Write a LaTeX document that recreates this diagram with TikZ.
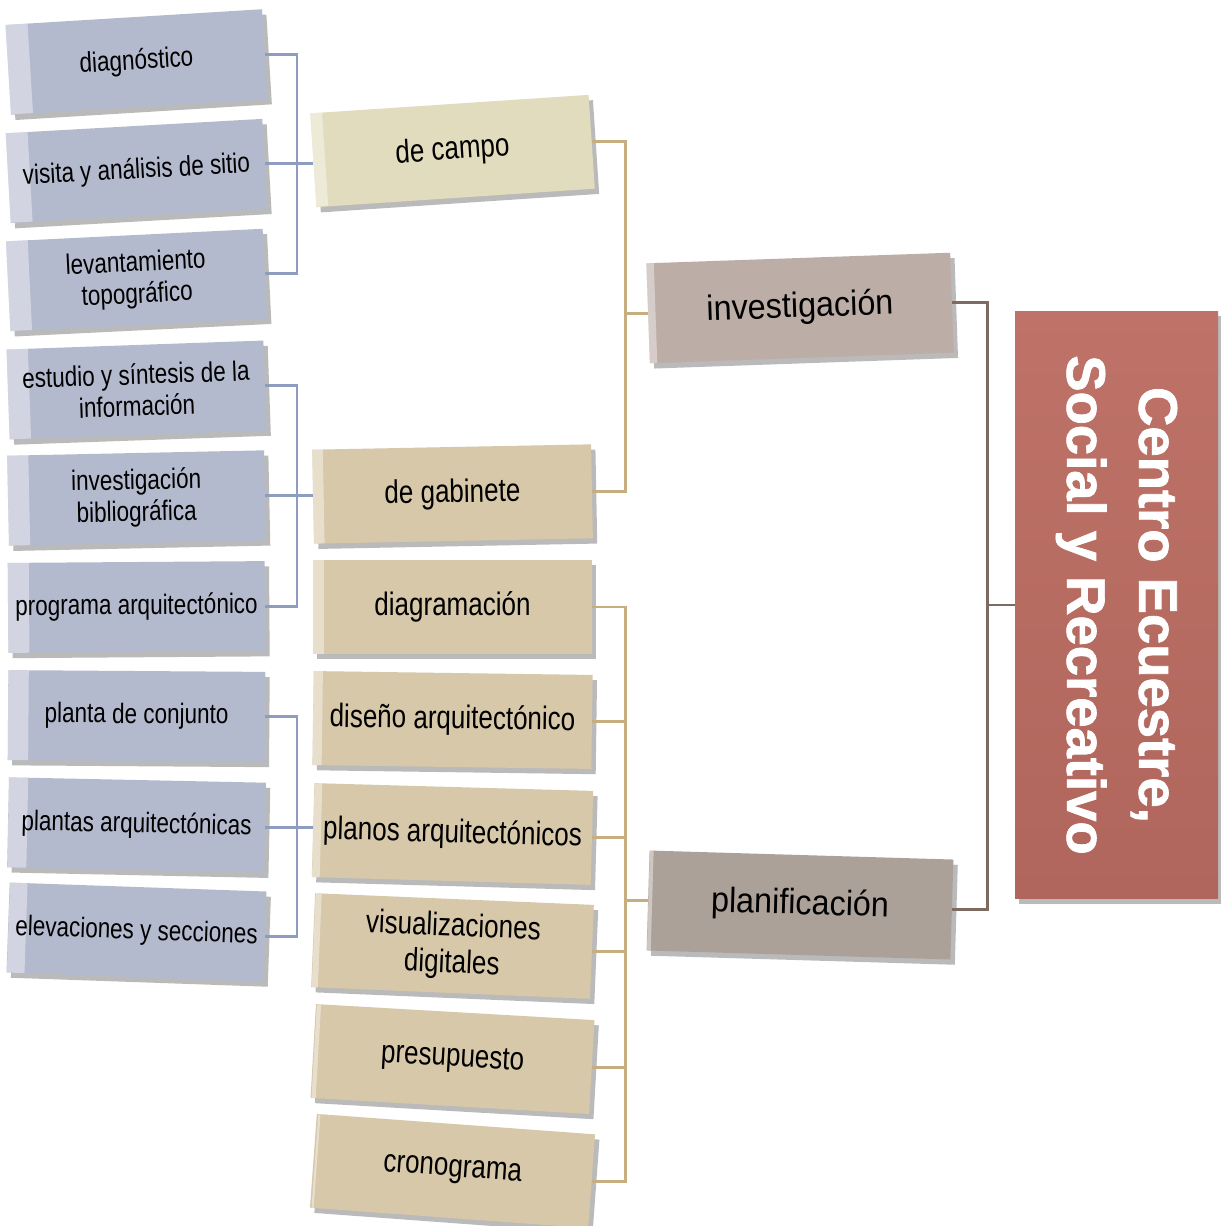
\documentclass[tikz,border=0pt]{standalone}
\usepackage{fontspec}
\setmainfont{Liberation Sans}[FakeStretch=0.8]
\newfontfamily\plainfont{Liberation Sans}[FakeStretch=0.92]
\newfontfamily\heavyfont{Liberation Sans}[BoldFeatures={FakeBold=1.3}]
\usetikzlibrary{shadows}
\definecolor{slate}{RGB}{180, 186, 205}
\definecolor{cream}{RGB}{226, 220, 190}
\definecolor{sand}{RGB}{215, 200, 169}
\definecolor{taupe}{RGB}{188, 173, 167}
\definecolor{stone}{RGB}{172, 161, 153}
\definecolor{bricklight}{RGB}{190, 114, 104}
\definecolor{brick}{RGB}{176, 102, 92}
\definecolor{bluelink}{RGB}{142, 156, 192}
\definecolor{tanlink}{RGB}{198, 174, 128}
\definecolor{brownlink}{RGB}{125, 106, 96}

\tikzset{
  box/.style={inner sep=0pt, align=center,
    drop shadow={shadow xshift=2.5pt, shadow yshift=-3pt, opacity=.45, fill=black!60},
    path picture={\fill[white, opacity=.4] (path picture bounding box.south west)
      rectangle ([xshift=#1]path picture bounding box.north west);}},
  leftbox/.style={box=12pt, fill=slate, minimum width=5.14cm, minimum height=1.8cm,
    font=\fontsize{16}{18}\selectfont},
  midbox/.style={box=6pt, fill=sand, minimum width=5.58cm, minimum height=1.88cm,
    font=\fontsize{18.5}{21}\selectfont},
  rightbox/.style={box=4pt, minimum width=6.08cm, minimum height=2cm,
    font=\plainfont\fontsize{20}{23}\selectfont},
  rootbox/.style={inner sep=0pt, align=center, text=white, top color=bricklight, bottom color=brick,
    minimum width=11.76cm, minimum height=4.06cm,
    drop shadow={shadow xshift=2.5pt, shadow yshift=-3pt, opacity=.45, fill=black!60},
    font=\heavyfont\bfseries\fontsize{31}{41}\selectfont},
  link/.style={line width=1.7pt}
}

\begin{document}
\begin{tikzpicture}[x=0.02cm, y=-0.02cm]

  \fill[white] (0, 0) rectangle (1220, 1226);
  \useasboundingbox (0, 0) rectangle (1220, 1226);

  % root
  \node[rootbox, rotate=-90] (root) at (1116.5, 605) {Centro Ecuestre,\\Social y Recreativo};

  % second level
  \node[rightbox, fill=taupe, rotate=2] (invest) at (800, 308) {investigación};
  \node[rightbox, fill=stone, rotate=-1.7] (plan) at (800, 905) {planificación};

  % third level
  \node[midbox, fill=cream, rotate=3.8] (campo) at (452.5, 151) {de campo};
  \node[midbox, rotate=1.1] (gab) at (452.5, 494) {de gabinete};
  \node[midbox, rotate=0] (diagr) at (452.5, 607) {diagramación};
  \node[midbox, rotate=-0.8] (diseno) at (452.5, 720) {diseño arquitectónico};
  \node[midbox, rotate=-1.6] (planos) at (452.5, 834) {planos arquitectónicos};
  \node[midbox, rotate=-2.4] (visual) at (452.5, 946) {visualizaciones\\digitales};
  \node[midbox, rotate=-3.3] (presu) at (452.5, 1059) {presupuesto};
  \node[midbox, rotate=-4.2] (crono) at (452.5, 1171) {cronograma};

  % fourth level
  \node[leftbox, rotate=3.5] (diag) at (136.5, 62) {diagnóstico};
  \node[leftbox, rotate=3.2] (visita) at (136.5, 171) {visita y análisis de sitio};
  \node[leftbox, rotate=2.8] (lev) at (136.5, 280) {levantamiento\\topográfico};
  \node[leftbox, rotate=2.0] (estudio) at (136.5, 390) {estudio y síntesis de la\\información};
  \node[leftbox, rotate=1.2] (biblio) at (136.5, 498) {investigación\\bibliográfica};
  \node[leftbox, rotate=0.4] (prog) at (136.5, 607) {programa arquitectónico};
  \node[leftbox, rotate=-0.4] (conj) at (136.5, 716) {planta de conjunto};
  \node[leftbox, rotate=-1.2] (plantas) at (136.5, 825) {plantas arquitectónicas};
  \node[leftbox, rotate=-2.0] (elev) at (136.5, 932) {elevaciones y secciones};

  % bracket columns
  \coordinate (lb) at (297, 0);
  \coordinate (tb) at (625, 0);
  \coordinate (rb) at (987, 0);

  \draw[link, brownlink] (invest.east) -| (rb |- plan.east) -- (plan.east);
  \draw[link, brownlink] (root.south) -- (root.south -| rb);

  \draw[link, tanlink] (campo.east) -| (tb |- gab.east) -- (gab.east);
  \draw[link, tanlink] (invest.west) -- (invest.west -| tb);
  \draw[link, tanlink] (diagr.east) -| (tb |- crono.east) -- (crono.east);
  \foreach \n in {diseno, planos, visual, presu}
    \draw[link, tanlink] (\n.east) -- (\n.east -| tb);
  \draw[link, tanlink] (plan.west) -- (plan.west -| tb);

  \draw[link, bluelink] (diag.east) -| (lb |- lev.east) -- (lev.east);
  \draw[link, bluelink] (visita.east) -- (visita.east -| campo.west);
  \draw[link, bluelink] (estudio.east) -| (lb |- prog.east) -- (prog.east);
  \draw[link, bluelink] (biblio.east) -- (biblio.east -| gab.west);
  \draw[link, bluelink] (conj.east) -| (lb |- elev.east) -- (elev.east);
  \draw[link, bluelink] (plantas.east) -- (plantas.east -| planos.west);

\end{tikzpicture}
\end{document}
